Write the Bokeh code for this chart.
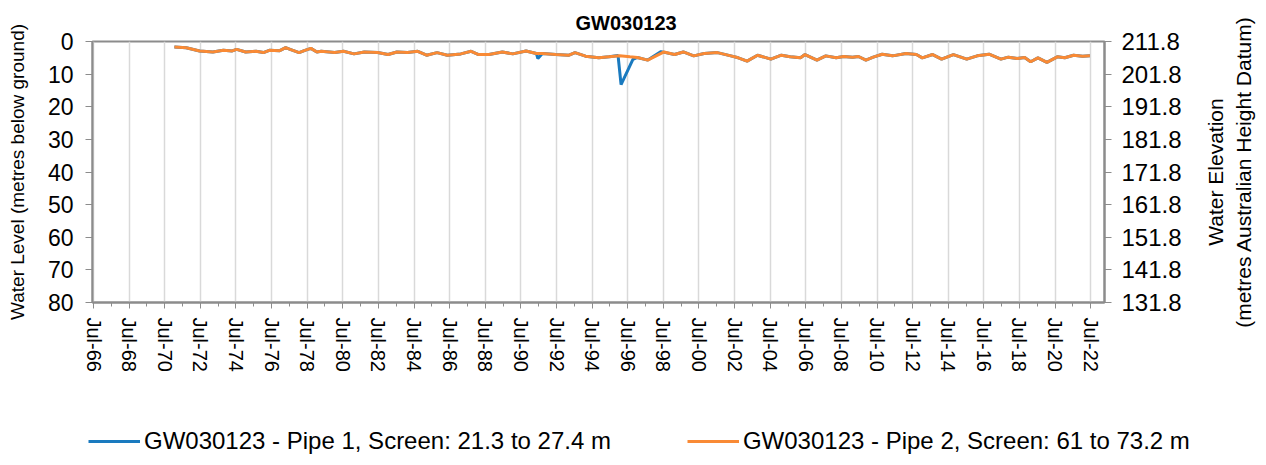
import pandas as pd
from bokeh.plotting import figure
from bokeh.layouts import row, column
from bokeh.models import (Range1d, LinearAxis, FixedTicker, DatetimeTickFormatter,
                          Legend, LegendItem)
from bokeh.embed import file_html
from bokeh.resources import INLINE

# ---------------- data ----------------
title_text = "GW030123"
left_axis_title = "Water Level (metres below ground)"
right_axis_title = "Water Elevation\n(metres Australian Height Datum)"
pipe1_label = "GW030123 - Pipe 1, Screen: 21.3 to 27.4 m"
pipe2_label = "GW030123 - Pipe 2, Screen: 61 to 73.2 m"

pipe2_dates = ["1971-01", "1971-09", "1972-06", "1973-03", "1973-10", "1974-04", "1974-07",
               "1975-01", "1975-08", "1976-01", "1976-05", "1976-12", "1977-04", "1977-07",
               "1978-01", "1978-05", "1978-09", "1979-01", "1979-04", "1980-01", "1980-07",
               "1981-02", "1981-09", "1982-06", "1983-01", "1983-07", "1984-02", "1984-09",
               "1985-03", "1985-10", "1986-05", "1987-02", "1987-09", "1988-02", "1988-09",
               "1989-06", "1990-01", "1990-10", "1991-05", "1991-09", "1992-06", "1993-03",
               "1993-07", "1994-02", "1994-11", "1995-06", "1996-01", "1996-08", "1997-01",
               "1997-08", "1998-07", "1999-02", "1999-08", "2000-03", "2000-10", "2001-07",
               "2002-04", "2002-09", "2003-03", "2003-10", "2004-07", "2005-02", "2005-08",
               "2006-03", "2006-06", "2007-02", "2007-08", "2008-03", "2008-08", "2009-02",
               "2009-06", "2009-11", "2010-04", "2010-10", "2011-05", "2012-02", "2012-09",
               "2013-01", "2013-08", "2014-02", "2014-10", "2015-07", "2016-02", "2016-10",
               "2017-06", "2017-11", "2018-05", "2018-10", "2019-02", "2019-07", "2020-01",
               "2020-08", "2021-01", "2021-07", "2022-01", "2022-06"]
pipe2_levels = [1.7, 1.9, 2.9, 3.2, 2.7, 2.9, 2.4,
                3.2, 3.0, 3.4, 2.7, 2.8, 1.9, 2.4,
                3.4, 2.7, 2.1, 3.2, 3.0, 3.4, 3.0,
                3.8, 3.2, 3.4, 4.0, 3.2, 3.4, 3.0,
                4.2, 3.4, 4.2, 3.8, 3.0, 4.0, 4.0,
                3.2, 3.8, 2.9, 3.7, 3.7, 4.0, 4.2,
                3.4, 4.5, 5.0, 4.7, 4.4, 4.7, 4.9,
                5.7, 3.2, 4.0, 3.2, 4.4, 3.7, 3.4,
                4.4, 5.0, 6.0, 4.2, 5.4, 4.2, 4.7,
                5.0, 4.0, 5.7, 4.4, 5.0, 4.6, 4.8,
                4.6, 5.7, 4.8, 3.9, 4.4, 3.7, 4.0,
                5.0, 4.0, 5.4, 4.0, 5.4, 4.4, 3.9,
                5.4, 4.8, 5.2, 4.9, 6.2, 5.0, 6.4,
                4.7, 5.0, 4.2, 4.5, 4.4]

pipe1_dates = ["1971-01", "1971-09", "1972-06", "1973-03", "1973-10", "1974-04", "1974-07",
               "1975-01", "1975-08", "1976-01", "1976-05", "1976-12", "1977-04", "1977-07",
               "1978-01", "1978-05", "1978-09", "1979-01", "1979-04", "1980-01", "1980-07",
               "1981-02", "1981-09", "1982-06", "1983-01", "1983-07", "1984-02", "1984-09",
               "1985-03", "1985-10", "1986-05", "1987-02", "1987-09", "1988-02", "1988-09",
               "1989-06", "1990-01", "1990-10", "1991-05", "1991-06", "1991-09", "1992-06",
               "1993-03", "1993-07", "1994-02", "1994-11", "1995-06", "1995-12", "1996-02",
               "1996-10", "1997-01", "1997-08", "1998-05", "1999-02", "1999-08", "2000-03",
               "2000-10", "2001-07", "2002-04", "2002-09", "2003-03", "2003-10", "2004-07",
               "2005-02", "2005-08", "2006-03", "2006-06", "2007-02", "2007-08", "2008-03",
               "2008-08", "2009-02", "2009-06", "2009-11", "2010-04", "2010-10", "2011-05",
               "2012-02", "2012-09", "2013-01", "2013-08", "2014-02", "2014-10", "2015-07",
               "2016-02", "2016-10", "2017-06", "2017-11", "2018-05", "2018-10", "2019-02",
               "2019-07", "2020-01", "2020-08", "2021-01", "2021-07", "2022-01", "2022-06"]
pipe1_levels = [1.7, 1.9, 2.9, 3.2, 2.7, 2.9, 2.4,
                3.2, 3.0, 3.4, 2.7, 2.8, 1.9, 2.4,
                3.4, 2.7, 2.1, 3.2, 3.0, 3.4, 3.0,
                3.8, 3.2, 3.4, 4.0, 3.2, 3.4, 3.0,
                4.2, 3.4, 4.2, 3.8, 3.0, 4.0, 4.0,
                3.2, 3.8, 2.9, 3.7, 5.2, 3.7, 4.0,
                4.2, 3.4, 4.5, 5.0, 4.7, 4.3, 13.2,
                5.5, 4.9, 5.7, 3.1, 4.0, 3.2, 4.4,
                3.7, 3.4, 4.4, 5.0, 6.0, 4.2, 5.4,
                4.2, 4.7, 5.0, 4.0, 5.7, 4.4, 5.0,
                4.6, 4.8, 4.6, 5.7, 4.8, 3.9, 4.4,
                3.7, 4.0, 5.0, 4.0, 5.4, 4.0, 5.4,
                4.4, 3.9, 5.4, 4.8, 5.2, 4.9, 6.2,
                5.0, 6.4, 4.7, 5.0, 4.2, 4.5, 4.4]

level_ticks = [0, 10, 20, 30, 40, 50, 60, 70, 80]
elevation_ticks = [131.8, 141.8, 151.8, 161.8, 171.8, 181.8, 191.8, 201.8, 211.8]
tick_years = list(range(1966, 2023, 2))
minor_years = list(range(1966, 2023, 1))

# ---------------- styling constants ----------------
FONT = "Liberation Sans"
AXIS_GREY = "#8c8c8c"
BLUE = "#1a7abf"
ORANGE = "#f98a35"

TOTAL_W, TOTAL_H = 1258, 457
MAIN_W, MAIN_H = 1188, 380
SIDE_W = TOTAL_W - MAIN_W
LEG_H = TOTAL_H - MAIN_H


def ms(s):
    return pd.Timestamp(s).value / 1e6


# ---------------- main chart ----------------
p = figure(width=MAIN_W, height=MAIN_H, output_backend="svg", toolbar_location=None,
           x_axis_type="datetime",
           x_range=Range1d(ms("1966-06-10"), ms("2023-04-10")),
           y_range=Range1d(80, 0),
           min_border_left=92, min_border_right=MAIN_W - 1104,
           min_border_top=41, min_border_bottom=MAIN_H - 302,
           background_fill_color="white", border_fill_color="white")

p.title.text = title_text
p.title.align = "left"
p.title.offset = 483
p.title.standoff = 15
p.title.text_font = FONT
p.title.text_font_size = "20px"
p.title.text_font_style = "bold"
p.title.text_color = "#000000"

p.outline_line_color = AXIS_GREY
p.outline_line_width = 2

p.xgrid.grid_line_color = "#d9d9d9"
p.xgrid.grid_line_width = 1.5
p.ygrid.visible = False

xa = p.xaxis[0]
xa.ticker = FixedTicker(ticks=[ms(f"{y}-07-01") for y in tick_years],
                        minor_ticks=[ms(f"{y}-07-01") for y in minor_years])
fmt = "%b-%y"
xa.formatter = DatetimeTickFormatter(milliseconds=fmt, seconds=fmt, minsec=fmt, minutes=fmt,
                                     hourmin=fmt, hours=fmt, days=fmt, months=fmt, years=fmt)
xa.major_label_orientation = "vertical"
xa.major_label_text_font = FONT
xa.major_label_text_font_size = "20px"
xa.major_label_text_color = "#000000"
xa.axis_line_color = AXIS_GREY
xa.axis_line_width = 2
xa.major_tick_line_color = AXIS_GREY
xa.minor_tick_line_color = AXIS_GREY
xa.major_tick_out = 6
xa.major_tick_in = 0
xa.minor_tick_out = 4
xa.minor_tick_in = 0
xa.major_label_standoff = 9

ya = p.yaxis[0]
ya.ticker = FixedTicker(ticks=level_ticks)
ya.axis_label = left_axis_title
ya.axis_label_text_font = FONT
ya.axis_label_text_font_size = "19px"
ya.axis_label_text_font_style = "normal"
ya.axis_label_text_color = "#000000"
ya.axis_label_standoff = 17
ya.major_label_text_font = FONT
ya.major_label_text_font_size = "23px"
ya.major_label_text_color = "#000000"
ya.axis_line_color = AXIS_GREY
ya.axis_line_width = 2
ya.major_tick_line_color = AXIS_GREY
ya.major_tick_out = 7
ya.major_tick_in = 0
ya.minor_tick_line_color = None
ya.major_label_standoff = 12

p.extra_y_ranges = {"elev": Range1d(131.8, 211.8)}
ra = LinearAxis(y_range_name="elev", ticker=FixedTicker(ticks=elevation_ticks))
ra.major_label_text_font = FONT
ra.major_label_text_font_size = "24px"
ra.major_label_text_color = "#000000"
ra.axis_line_color = AXIS_GREY
ra.axis_line_width = 2
ra.major_tick_line_color = AXIS_GREY
ra.major_tick_out = 7
ra.major_tick_in = 0
ra.minor_tick_line_color = None
ra.major_label_standoff = 10
p.add_layout(ra, "right")

x1 = [ms(d + "-15") for d in pipe1_dates]
x2 = [ms(d + "-15") for d in pipe2_dates]
p.line(x1, pipe1_levels, line_color=BLUE, line_width=3)
p.line(x2, pipe2_levels, line_color=ORANGE, line_width=3)

# ---------------- right axis title (reads bottom-to-top, like Excel) ----------------
side = figure(width=SIDE_W, height=MAIN_H, output_backend="svg", toolbar_location=None,
              x_range=Range1d(0, 1), y_range=Range1d(0, 1),
              x_axis_location=None, y_axis_location="left",
              min_border_left=SIDE_W - 4, min_border_right=0,
              outline_line_color=None,
              background_fill_color="white", border_fill_color="white")
side.grid.visible = False
sa = side.yaxis[0]
sa.ticker = FixedTicker(ticks=[])
sa.axis_line_color = None
sa.major_tick_line_color = None
sa.minor_tick_line_color = None
sa.major_label_text_font_size = "0px"
sa.axis_label = right_axis_title
sa.axis_label_standoff = 0
sa.axis_label_text_font = FONT
sa.axis_label_text_font_size = "21px"
sa.axis_label_text_font_style = "normal"
sa.axis_label_text_color = "#000000"

# ---------------- legend strip ----------------
nan = float("nan")
leg = figure(width=TOTAL_W, height=LEG_H, output_backend="svg", toolbar_location=None,
             x_range=Range1d(0, 1), y_range=Range1d(0, 1),
             x_axis_location=None, y_axis_location=None,
             min_border=0, outline_line_color=None,
             background_fill_color="white", border_fill_color="white")
leg.grid.visible = False
lr1 = leg.line(x=[nan], y=[nan], line_color=BLUE, line_width=3)
lr2 = leg.line(x=[nan], y=[nan], line_color=ORANGE, line_width=3)
legend = Legend(items=[LegendItem(label=pipe1_label, renderers=[lr1]),
                       LegendItem(label=pipe2_label, renderers=[lr2])],
                orientation="horizontal", location=(88, 2),
                padding=0, margin=0, spacing=76, label_standoff=4,
                glyph_width=52, glyph_height=24,
                label_text_font=FONT, label_text_font_size="24px",
                label_text_color="#000000",
                border_line_alpha=0, background_fill_alpha=0)
leg.add_layout(legend, "center")

layout = column(row(p, side, spacing=0), leg, spacing=0)

open("out.html", "w").write(file_html(layout, INLINE))
